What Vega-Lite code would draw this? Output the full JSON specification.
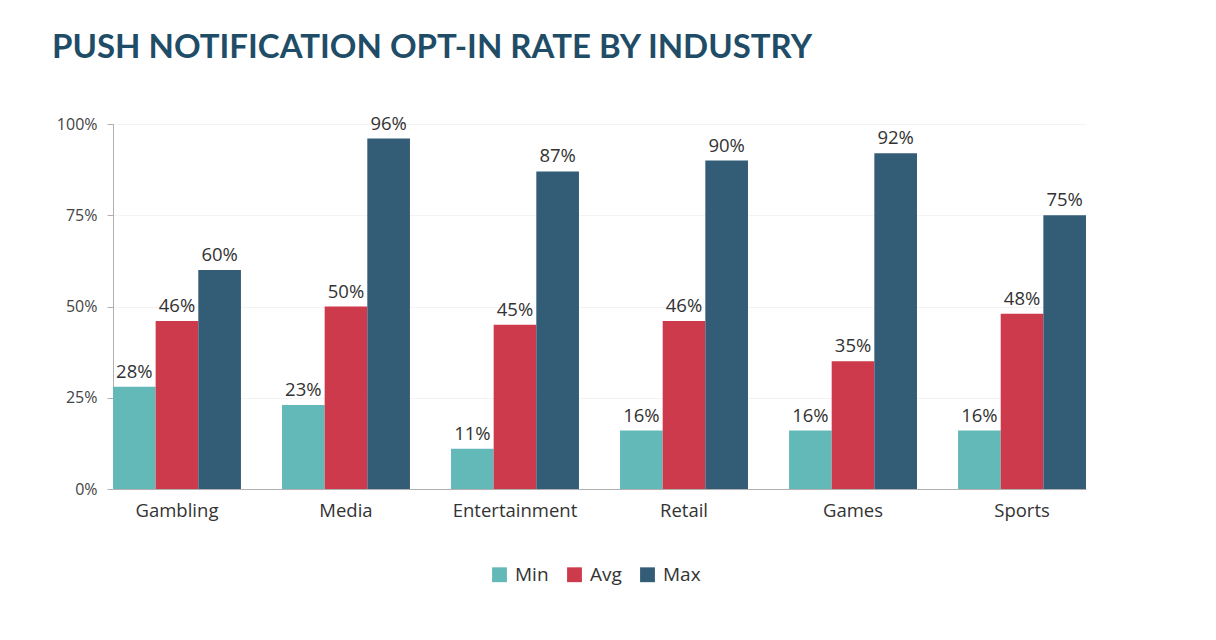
{
  "$schema": "https://vega.github.io/schema/vega-lite/v6.json",
  "width": 973,
  "height": 365,
  "autosize": "none",
  "padding": {"left": 113, "top": 124, "right": 130, "bottom": 151},
  "background": "white",
  "config": {"view": {"stroke": null}},
  "title": {
    "text": "PUSH NOTIFICATION OPT-IN RATE BY INDUSTRY",
    "anchor": "start",
    "frame": "group",
    "dx": -61,
    "offset": 50,
    "font": "Lato",
    "fontSize": 33,
    "fontWeight": "bold",
    "color": "#1f4d68"
  },
  "data": {
    "values": [
      {"industry": "Gambling", "metric": "Min", "value": 0.28},
      {"industry": "Gambling", "metric": "Avg", "value": 0.46},
      {"industry": "Gambling", "metric": "Max", "value": 0.60},
      {"industry": "Media", "metric": "Min", "value": 0.23},
      {"industry": "Media", "metric": "Avg", "value": 0.50},
      {"industry": "Media", "metric": "Max", "value": 0.96},
      {"industry": "Entertainment", "metric": "Min", "value": 0.11},
      {"industry": "Entertainment", "metric": "Avg", "value": 0.45},
      {"industry": "Entertainment", "metric": "Max", "value": 0.87},
      {"industry": "Retail", "metric": "Min", "value": 0.16},
      {"industry": "Retail", "metric": "Avg", "value": 0.46},
      {"industry": "Retail", "metric": "Max", "value": 0.90},
      {"industry": "Games", "metric": "Min", "value": 0.16},
      {"industry": "Games", "metric": "Avg", "value": 0.35},
      {"industry": "Games", "metric": "Max", "value": 0.92},
      {"industry": "Sports", "metric": "Min", "value": 0.16},
      {"industry": "Sports", "metric": "Avg", "value": 0.48},
      {"industry": "Sports", "metric": "Max", "value": 0.75}
    ]
  },
  "encoding": {
    "x": {
      "field": "industry",
      "type": "nominal",
      "sort": ["Gambling", "Media", "Entertainment", "Retail", "Games", "Sports"],
      "scale": {"paddingInner": 0.243, "paddingOuter": 0},
      "axis": {
        "title": null,
        "labelAngle": 0,
        "ticks": false,
        "domainColor": "#b0b0b0",
        "labelFont": "Open Sans",
        "labelFontSize": 18.5,
        "labelColor": "#333333",
        "labelPadding": 12
      }
    },
    "xOffset": {
      "field": "metric",
      "type": "nominal",
      "sort": ["Min", "Avg", "Max"],
      "scale": {"paddingInner": 0, "paddingOuter": 0}
    },
    "y": {
      "field": "value",
      "type": "quantitative",
      "scale": {"domain": [0, 1]},
      "axis": {
        "title": null,
        "values": [0, 0.25, 0.5, 0.75, 1],
        "format": ".0%",
        "domainColor": "#b0b0b0",
        "tickColor": "#b0b0b0",
        "tickSize": 6,
        "gridColor": "#f3f3f3",
        "labelFont": "Open Sans",
        "labelFontSize": 16,
        "labelColor": "#444444",
        "labelPadding": 10
      }
    }
  },
  "layer": [
    {
      "mark": {"type": "bar"},
      "encoding": {
        "color": {
          "field": "metric",
          "type": "nominal",
          "sort": ["Min", "Avg", "Max"],
          "scale": {"domain": ["Min", "Avg", "Max"], "range": ["#63b9b8", "#cd3a4b", "#335c76"]},
          "legend": {
            "title": null,
            "orient": "none",
            "direction": "horizontal",
            "legendX": 377,
            "legendY": 441,
            "symbolType": "square",
            "symbolSize": 220,
            "labelFont": "Open Sans",
            "labelFontSize": 19,
            "labelOffset": 6,
            "labelColor": "#333333",
            "columnPadding": 16,
            "symbolStrokeWidth": 0
          }
        }
      }
    },
    {
      "mark": {"type": "text", "baseline": "bottom", "dy": -5, "font": "Open Sans", "fontSize": 18.5, "color": "#333333"},
      "encoding": {
        "text": {"field": "value", "type": "quantitative", "format": ".0%"}
      }
    }
  ]
}
